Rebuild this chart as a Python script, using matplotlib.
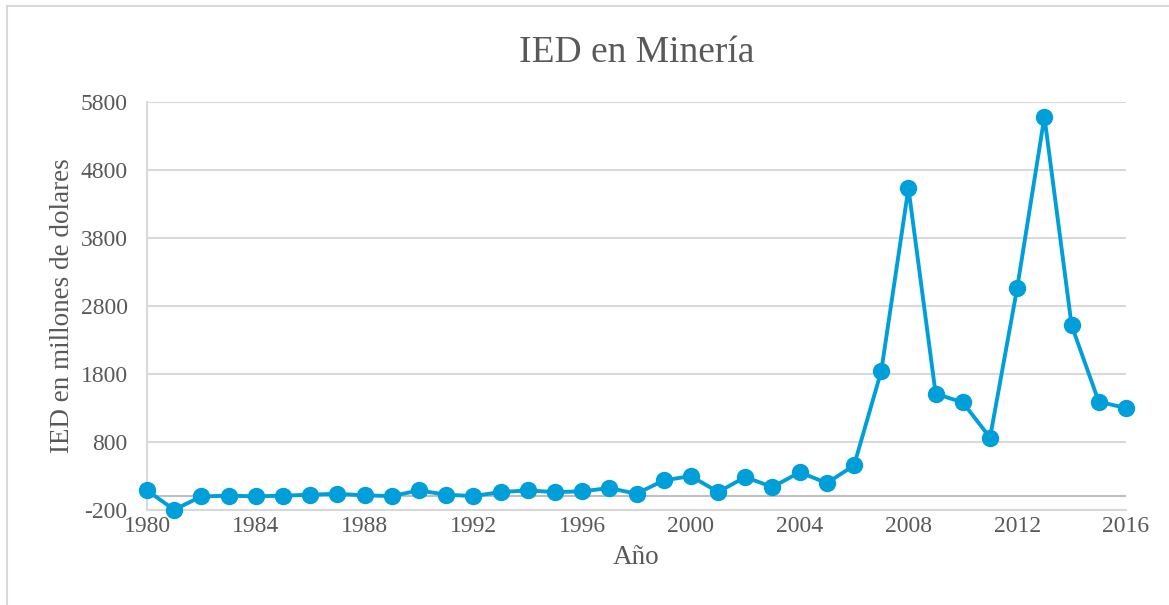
import matplotlib.pyplot as plt
from matplotlib.patches import Rectangle

years = list(range(1980, 2017))
ied = [88, -196, 0, 10, 2, 10, 25, 39, 15, 5,
       88, 25, 5, 64, 88, 64, 74, 123, 39, 235,
       299, 64, 284, 137, 355, 196, 456, 1843, 4534, 1510,
       1382, 863, 3069, 5583, 2515, 1392, 1299]
yticks = [-200, 800, 1800, 2800, 3800, 4800, 5800]
xticks = list(range(1980, 2017, 4))

gray = '#595959'
grid = '#D9D9D9'
blue = '#009FDA'

plt.rcParams['font.family'] = ['Liberation Serif', 'DejaVu Serif']
plt.rcParams['axes.unicode_minus'] = False

fig = plt.figure(figsize=(11.69, 6.05), dpi=100)
ax = fig.add_axes([147/1169, 1 - 510/605, (1126 - 147)/1169, (510 - 102)/605])

# chart area border
fig.patches.append(Rectangle((7/1169, -0.1), 1.2, 1 - 6/605 + 0.1, transform=fig.transFigure,
                             fill=False, edgecolor=grid, linewidth=1.5))

ax.plot(years, ied, color=blue, linewidth=2.8, marker='o', markersize=11.5, zorder=3, clip_on=False)
ax.axhline(0, color='#BFBFBF', linewidth=1.5, zorder=1)

ax.set_xlim(1980, 2016)
ax.set_ylim(-200, 5800)
ax.set_yticks(yticks)
ax.set_xticks(xticks)
ax.grid(axis='y', color=grid, linewidth=1.5)
ax.set_axisbelow(True)

for s in ['top', 'right']:
    ax.spines[s].set_visible(False)
ax.spines['left'].set_color(grid)
ax.spines['bottom'].set_color(grid)
ax.spines['left'].set_linewidth(1.5)
ax.spines['bottom'].set_linewidth(1.5)

ax.tick_params(length=0, labelsize=17, colors=gray, pad=4)
ax.tick_params(axis='y', pad=14)

ax.set_title('IED en Minería', fontsize=27, color=gray, pad=29)
ax.set_xlabel('Año', fontsize=19.5, color=gray, labelpad=6)
ax.set_ylabel('IED en millones de dolares', fontsize=19.5, color=gray, labelpad=4)

fig.savefig('out.png', dpi=100)
